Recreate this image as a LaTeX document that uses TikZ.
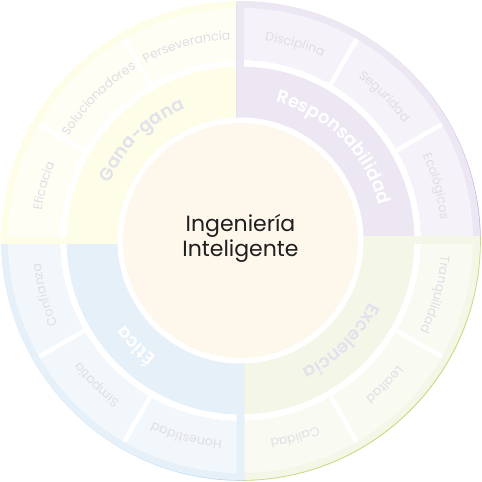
\documentclass[tikz,border=0pt]{standalone}
\usepackage{fontspec}
\setmainfont{Poppins}
\IfFontExistsTF{Poppins SemiBold}{\newfontfamily\bandfamily{Poppins SemiBold}}{\newcommand\bandfamily{\bfseries}}
\usetikzlibrary{decorations.text}
\definecolor{yelbase}{HTML}{FEFDE7}
\definecolor{yelbox}{HTML}{FFFEF4}
\definecolor{yeledge}{HTML}{F1EFC4}
\definecolor{purbase}{HTML}{EDE7F3}
\definecolor{purbox}{HTML}{F5F2F9}
\definecolor{puredge}{HTML}{C4B2DD}
\definecolor{grebase}{HTML}{F4F7E8}
\definecolor{grebox}{HTML}{F9FBF3}
\definecolor{greedge}{HTML}{CBDA83}
\definecolor{blubase}{HTML}{E6F0F8}
\definecolor{blubox}{HTML}{F2F7FB}
\definecolor{bluedge}{HTML}{BFD9EE}
\definecolor{cream}{HTML}{FEF7EC}
\definecolor{boxtext}{HTML}{E0DEE4}
\definecolor{bandgrey}{HTML}{E3E1EC}
\definecolor{centertext}{HTML}{1F1F1F}
\tikzset{
  centerlabel/.style={anchor=base, inner sep=0pt, text=centertext, font=\fontsize{22}{25}\selectfont},
  sepline/.style={white, line width=4.5pt}
}
\newcommand\drawquad[7]{%
  \begin{scope}
    \clip #4;
    \fill[#3] (0.8,-0.8) circle[radius=239.5];
    \fill[#1] (0,0) circle[radius=239.5];
  \end{scope}
  \begin{scope}
    \clip #5;
    \fill[white, even odd rule] (0,0) circle[radius=180.5] circle[radius=174];
    \fill[#2, even odd rule] (0,0) circle[radius=232.5] circle[radius=180.5];
    \draw[sepline] (#6:176) -- (#6:232.5);
    \draw[sepline] (#7:176) -- (#7:232.5);
  \end{scope}}
\newcommand\boxlabel[2]{%
  \path[decorate, decoration={text along path, text align=center,
    text={|\fontsize{12.5}{12.5}\selectfont\color{boxtext}|#2}}]
    ({#1+45}:201) arc[start angle={#1+45}, end angle={#1-45}, radius=201];}
\newcommand\bandlabel[3]{%
  \path[decorate, decoration={text along path, text align=center,
    text={|\bandfamily\fontsize{18}{18}\selectfont\color{#2}|#3}}]
    ({#1+70}:143) arc[start angle={#1+70}, end angle={#1-70}, radius=143];}
\begin{document}
\begin{tikzpicture}[x=1pt, y=1pt]
\useasboundingbox (-240.5,-241.5) rectangle (241.5,240.5);
% quadrants
\drawquad{yelbase}{yelbox}{yeledge}{(-3.75,-3.75) rectangle (-250,250)}{(-3.75,3.75) rectangle (-250,250)}{150}{120}
\drawquad{purbase}{purbox}{puredge}{(-3.75,3.75) rectangle (250,250)}{(3.75,3.75) rectangle (250,250)}{60}{30}
\drawquad{grebase}{grebox}{greedge}{(3.75,3.75) rectangle (250,-250)}{(3.75,-3.75) rectangle (250,-250)}{-30}{-60}
\drawquad{blubase}{blubox}{bluedge}{(3.75,-3.75) rectangle (-250,-250)}{(-3.75,-3.75) rectangle (-250,-250)}{240}{210}
% centre
\fill[white] (0,0) circle[radius=123];
\fill[cream] (0,0) circle[radius=117.5];
\node[centerlabel] (line1) at (0,8.8) {Ingeniería};
\node[centerlabel] (line2) at (0,-16.2) {Inteligente};
% band labels
\bandlabel{134.5}{bandgrey}{Gana-gana}
\bandlabel{45}{white}{Responsabilidad}
\bandlabel{-45}{bandgrey}{Excelencia}
\bandlabel{225}{white}{Ética}
% box labels
\boxlabel{164.5}{Eficacia}
\boxlabel{135}{Solucionadores}
\boxlabel{105.5}{Perseverancia}
\boxlabel{74.5}{Disciplina}
\boxlabel{45}{Seguridad}
\boxlabel{15.5}{Ecológicos}
\boxlabel{-15.5}{Tranquilidad}
\boxlabel{-45}{Lealtad}
\boxlabel{-74.5}{Calidad}
\boxlabel{254.5}{Honestidad}
\boxlabel{225}{Simpatía}
\boxlabel{195.5}{Confianza}
\end{tikzpicture}
\end{document}
